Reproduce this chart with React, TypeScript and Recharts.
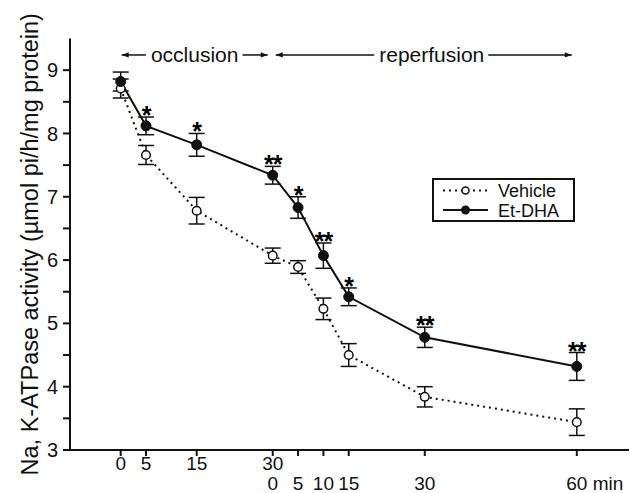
import { ComposedChart, Line, XAxis, YAxis, ErrorBar, Legend, ReferenceLine } from 'recharts'

// time in minutes from start of occlusion (30 min occlusion, then 60 min reperfusion)
const times = [0, 5, 15, 30, 35, 40, 45, 60, 90]
const vehicle = [8.71, 7.66, 6.78, 6.07, 5.89, 5.23, 4.5, 3.84, 3.44]
const vehicleErr = [0.15, 0.15, 0.21, 0.12, 0.1, 0.17, 0.18, 0.16, 0.21]
const etDha = [8.82, 8.12, 7.82, 7.34, 6.83, 6.07, 5.42, 4.78, 4.32]
const etDhaErr = [0.15, 0.14, 0.18, 0.14, 0.17, 0.2, 0.14, 0.16, 0.22]
const stars = ['', '*', '*', '**', '*', '**', '*', '**', '**']

const occlusionLabels = ['0', '5', '15', '30', '', '', '', '', '']
const reperfusionLabels = ['', '', '', '0', '5', '10', '15', '30', '60 min']
const yTicks = [3, 3.5, 4, 4.5, 5, 5.5, 6, 6.5, 7, 7.5, 8, 8.5, 9]

const seriesNames = ['Vehicle', 'Et-DHA']
const phaseNames = ['occlusion', 'reperfusion']
const phaseStart = [0, 30]
const phaseEnd = [30, 90]
const phaseLevel = 9.24

const FONT = '"Liberation Sans", Arial, Helvetica, sans-serif'
const INK = '#111'

const data = times.map((t, i) => ({
  t,
  vehicle: vehicle[i],
  vehicleErr: vehicleErr[i],
  etDha: etDha[i],
  etDhaErr: etDhaErr[i],
  starTop: etDha[i] + etDhaErr[i],
  star: stars[i],
}))

function textWidth(text: string, size: number) {
  const ctx = document.createElement('canvas').getContext('2d')
  if (!ctx) return text.length * size * 0.48
  ctx.font = `${size}px "Liberation Sans", Arial`
  return ctx.measureText(text).width
}

// small tweaks so the label sits where the original put it
const phaseTextShift = [-2, 7]
const phasePad = [1, 3]

function Arrow({ x1, x2, y, dir }: { x1: number; x2: number; y: number; dir: 'left' | 'right' }) {
  const tip = dir === 'left' ? x1 : x2
  const back = dir === 'left' ? tip + 7 : tip - 7
  return (
    <g>
      <line x1={x1} x2={x2} y1={y} y2={y} stroke={INK} strokeWidth={1.5} />
      <polygon points={`${tip},${y} ${back},${y - 2.6} ${back},${y + 2.6}`} fill={INK} />
    </g>
  )
}

function PhaseArrow(props: any) {
  const { x1, x2, y1, idx } = props
  const size = 21
  const name = phaseNames[idx]
  const w = textWidth(name, size)
  const cx = (x1 + x2) / 2 + phaseTextShift[idx]
  const y = y1
  return (
    <g>
      <Arrow x1={x1 + phasePad[idx]} x2={cx - w / 2 - 5} y={y} dir="left" />
      <text x={cx} y={y + 7} textAnchor="middle" fontSize={size} fontFamily={FONT} fill={INK}>
        {name}
      </text>
      <Arrow x1={cx + w / 2 + 4} x2={x2 - 5} y={y} dir="right" />
    </g>
  )
}

function TimeTick({ x, y, payload }: any) {
  const i = times.indexOf(payload.value)
  const top = occlusionLabels[i]
  const bottom = reperfusionLabels[i]
  const isLast = bottom === '60 min'
  return (
    <g fontFamily={FONT} fontSize={19} fill={INK}>
      {top && (
        <text x={x} y={y + 14} textAnchor="middle">
          {top}
        </text>
      )}
      {bottom && (
        <text x={isLast ? x - 10.5 : x} y={y + 33.5} textAnchor={isLast ? 'start' : 'middle'}>
          {bottom}
        </text>
      )}
    </g>
  )
}

function StarDot(props: any) {
  const { cx, cy, index, payload } = props
  if (!payload.star) return <g key={`s-${index}`} />
  return (
    <text
      key={`s-${index}`}
      x={cx}
      y={cy + 7}
      textAnchor="middle"
      fontSize={25}
      fontWeight="bold"
      fontFamily={FONT}
      fill="#000"
      letterSpacing={-1}
    >
      {payload.star}
    </text>
  )
}

function LegendBox() {
  return (
    <svg width={143} height={44} style={{ display: 'block' }}>
      <rect x={1} y={1} width={141} height={42} fill="#fff" stroke={INK} strokeWidth={2} />
      {seriesNames.map((name, i) => {
        const y = i === 0 ? 12.5 : 32
        return (
          <g key={name}>
            <line
              x1={11}
              x2={56}
              y1={y}
              y2={y}
              stroke={INK}
              strokeWidth={2}
              strokeDasharray={i === 0 ? '2 4' : undefined}
            />
            {i === 0 ? (
              <circle cx={33.5} cy={y} r={3.5} fill="#fff" stroke={INK} strokeWidth={1.5} />
            ) : (
              <circle cx={33.5} cy={y} r={4.5} fill={INK} />
            )}
            <text x={66} y={y + 6.5} fontSize={18} fontFamily={FONT} fill={INK}>
              {name}
            </text>
          </g>
        )
      })}
    </svg>
  )
}

export default function App() {
  return (
    <div style={{ position: 'absolute', left: 0, top: 0, width: 630, height: 493, background: '#fff' }}>
      <ComposedChart width={630} height={493} data={data} margin={{ top: 38.5, right: 1, bottom: 0, left: 0 }}>
        <XAxis
          dataKey="t"
          type="number"
          domain={[-10, 100.3]}
          allowDataOverflow
          ticks={times}
          interval={0}
          height={43}
          tickSize={6}
          tickMargin={0}
          axisLine={{ stroke: INK, strokeWidth: 2 }}
          tickLine={{ stroke: INK, strokeWidth: 2 }}
          tick={<TimeTick />}
        />
        <YAxis
          type="number"
          domain={[3, 9.5]}
          allowDataOverflow
          ticks={yTicks}
          interval={0}
          width={70}
          tickSize={7}
          tickMargin={5}
          axisLine={{ stroke: INK, strokeWidth: 2 }}
          tickLine={{ stroke: INK, strokeWidth: 2 }}
          tick={{ fontSize: 20, fill: INK, fontFamily: FONT }}
          tickFormatter={(v: number) => (Number.isInteger(v) ? String(v) : '')}
          label={({ viewBox }: any) => {
            const cy = viewBox.y + viewBox.height / 2
            return (
              <text
                x={30}
                y={cy}
                transform={`rotate(-90, 30, ${cy})`}
                textAnchor="middle"
                dominantBaseline="central"
                fontSize={23.5}
                fontFamily={FONT}
                fill={INK}
              >
                Na, K-ATPase activity (µmol pi/h/mg protein)
              </text>
            )
          }}
        />
        {phaseNames.map((name, i) => (
          <ReferenceLine
            key={name}
            segment={[
              { x: phaseStart[i], y: phaseLevel },
              { x: phaseEnd[i], y: phaseLevel },
            ]}
            shape={(p: any) => <PhaseArrow {...p} idx={i} />}
          />
        ))}
        <Legend
          layout="horizontal"
          verticalAlign="middle"
          align="center"
          wrapperStyle={{ left: 432, top: 178, width: 143, height: 44 }}
          content={() => <LegendBox />}
        />
        <Line
          dataKey="vehicle"
          name={seriesNames[0]}
          stroke={INK}
          strokeWidth={2}
          strokeDasharray="2 4"
          dot={{ r: 4.3, fill: '#fff', stroke: INK, strokeWidth: 1.5, strokeDasharray: '' }}
          activeDot={false}
          isAnimationActive={false}
        >
          <ErrorBar dataKey="vehicleErr" width={8} strokeWidth={1.5} stroke={INK} />
        </Line>
        <Line
          dataKey="etDha"
          name={seriesNames[1]}
          stroke={INK}
          strokeWidth={2}
          dot={{ r: 5, fill: INK, stroke: INK, strokeWidth: 1 }}
          activeDot={false}
          isAnimationActive={false}
        >
          <ErrorBar dataKey="etDhaErr" width={8} strokeWidth={1.5} stroke={INK} />
        </Line>
        <Line
          dataKey="starTop"
          stroke="none"
          legendType="none"
          dot={(p: any) => <StarDot {...p} />}
          activeDot={false}
          isAnimationActive={false}
        />
      </ComposedChart>
    </div>
  )
}
